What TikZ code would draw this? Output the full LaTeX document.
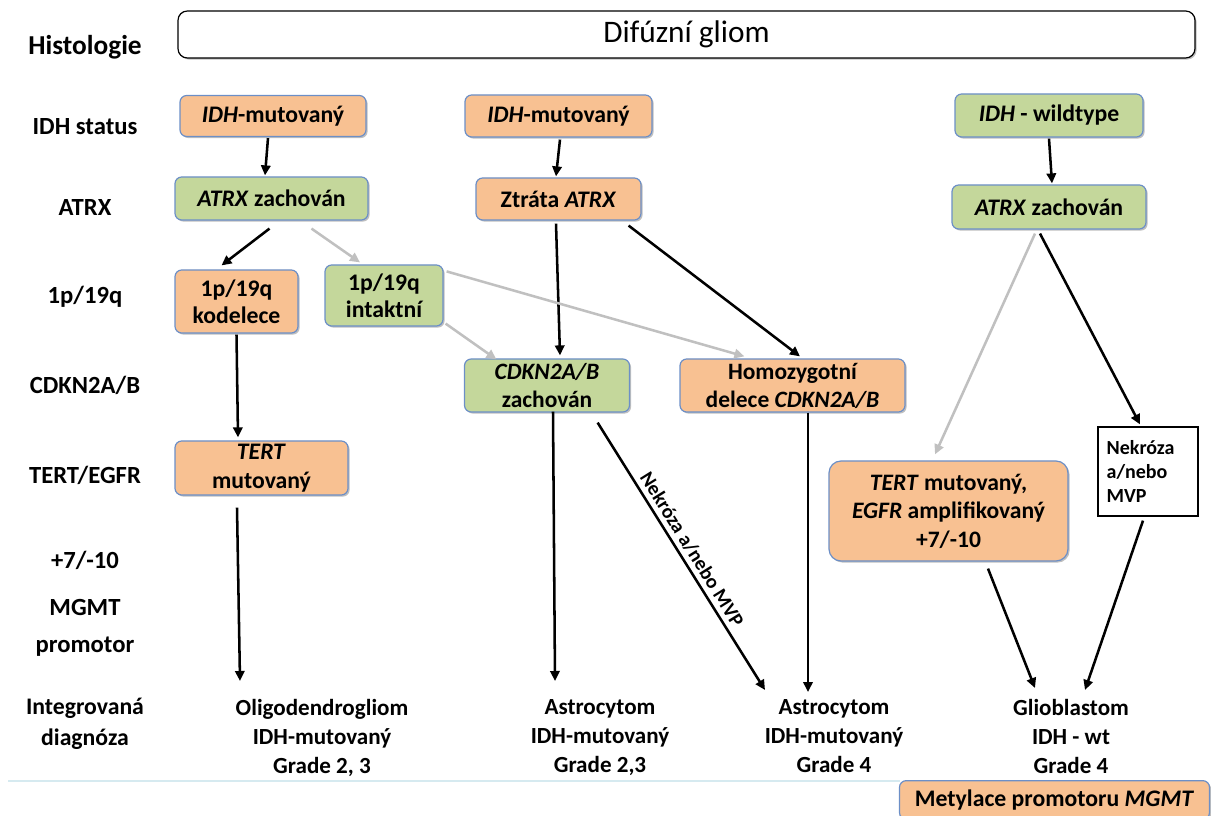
\documentclass[tikz,border=0pt]{standalone}
\usepackage{fontspec}
\setmainfont{Carlito}
\usetikzlibrary{arrows.meta,calc,shadows}
\definecolor{ocol}{RGB}{248,193,146}
\definecolor{gcol}{RGB}{196,215,155}
\definecolor{bcol}{RGB}{108,143,199}
\definecolor{grayarr}{RGB}{192,192,192}
\definecolor{lineblue}{RGB}{214,234,240}
\tikzset{
  shad/.style={drop shadow={shadow xshift=1.2pt,shadow yshift=-1.2pt,opacity=0.25,fill=black}},
  box/.style={draw=bcol,line width=0.9pt,rounded corners=5pt,align=center,inner sep=0pt,shad},
  obox/.style={box,fill=ocol},
  gbox/.style={box,fill=gcol},
  fa/.style={font=\bfseries\fontsize{17.8}{20}\selectfont},
  fb/.style={font=\bfseries\fontsize{17.8}{20}\selectfont},
  rowlab/.style={font=\bfseries\fontsize{18.5}{22}\selectfont,align=center},
  diag/.style={font=\bfseries\fontsize{17.3}{21.75}\selectfont,align=center,anchor=north,inner sep=0pt},
  arr/.style={line width=1.9pt,-{Triangle[length=7.5pt,width=7pt]}},
  garr/.style={arr,draw=grayarr},
}
\begin{document}
\begin{tikzpicture}[x=0.75pt,y=-0.75pt]
\useasboundingbox (0,0) rectangle (1211,816);
\clip (0,0) rectangle (1211,816);

% row labels
\node[font=\bfseries\fontsize{20.5}{24}\selectfont] (lHist) at (85,47) {Histologie};
\node[rowlab] (lIDH) at (85,127) {IDH status};
\node[rowlab] (lATRX) at (85,208) {ATRX};
\node[rowlab] (l1p) at (85,297) {1p/19q};
\node[rowlab] (lCDK) at (85,385) {CDKN2A/B};
\node[rowlab] (lTERT) at (85,475) {TERT/EGFR};
\node[rowlab] (l710) at (85,560) {+7/-10};
\node[rowlab,font=\bfseries\fontsize{18.5}{27.5}\selectfont] (lMGMT) at (85,628) {MGMT\\promotor};
\node[font=\bfseries\fontsize{17.8}{23}\selectfont,align=center] (lInt) at (85,724) {Integrovaná\\diagnóza};

% top box
\node[draw=black,line width=0.9pt,rounded corners=7pt,fill=white,shad,
      minimum width=762.75pt,minimum height=35.25pt,inner sep=0pt,
      font=\fontsize{23.5}{26}\selectfont] (top) at (686.5,34.5) {Difúzní gliom};

% column A
\node[obox,fa,minimum width=139.5pt,minimum height=30.75pt] (A1) at (273,116) {\textit{IDH}-mutovaný};
\node[gbox,fa,minimum width=144.75pt,minimum height=32.25pt] (A2) at (271.5,198.5) {\textit{ATRX} zachován};
\node[obox,fb,minimum width=92.25pt,minimum height=47.25pt] (A3) at (236.5,301.5) {1p/19q\\kodelece};
\node[gbox,fb,minimum width=88.5pt,minimum height=45.75pt] (A4) at (384,295.5) {1p/19q\\intaktní};
\node[obox,font=\bfseries\fontsize{17.8}{21.75}\selectfont,minimum width=129.75pt,minimum height=40.5pt] (A5) at (261.5,468) {\textit{TERT}\\mutovaný};

% column B
\node[obox,fa,minimum width=140.25pt,minimum height=31.5pt] (B1) at (558.5,116) {\textit{IDH}-mutovaný};
\node[obox,fa,minimum width=123.75pt,minimum height=31.5pt] (B2) at (558.5,199) {Ztráta \textit{ATRX}};
\node[gbox,font=\bfseries\fontsize{17.6}{21}\selectfont,minimum width=123.75pt,minimum height=39.75pt] (B3) at (547,385.5) {\textit{CDKN2A/B}\\zachován};
\node[obox,font=\bfseries\fontsize{17.6}{21}\selectfont,minimum width=168.75pt,minimum height=39.75pt] (B4) at (792.5,385.5) {Homozygotní\\delece \textit{CDKN2A/B}};

% column C
\node[gbox,fa,minimum width=141pt,minimum height=32.25pt] (C1) at (1049,115.5) {\textit{IDH} - wildtype};
\node[gbox,fa,minimum width=145.5pt,minimum height=33pt] (C2) at (1049,207) {\textit{ATRX} zachován};
\node[obox,rounded corners=9pt,font=\bfseries\fontsize{17.7}{21.4}\selectfont,minimum width=179.25pt,minimum height=75pt] (C3) at (948.5,511) {\textit{TERT} mutovaný,\\\textit{EGFR} amplifikovaný\\+7/-10};
\node[draw=black,line width=0.9pt,fill=white,align=left,inner sep=0pt,text width=62pt,
      font=\bfseries\fontsize{15}{18}\selectfont,minimum width=75pt,minimum height=66.75pt] (C4) at (1148,471.5) {Nekróza\\a/nebo\\MVP};

% diagnoses
\node[diag] (D1) at (322,699) {Oligodendrogliom\\IDH-mutovaný\\Grade 2, 3};
\node[diag] (D2) at (600,699) {Astrocytom\\IDH-mutovaný\\Grade 2,3};
\node[diag] (D3) at (834,699) {Astrocytom\\IDH-mutovaný\\Grade 4};
\node[diag] (D4) at (1071,699) {Glioblastom\\IDH - wt\\Grade 4};

% separator line and MGMT box
\draw[lineblue,line width=1.6pt] (8,781) -- (900,781);
\node[obox,fb,minimum width=232.5pt,minimum height=29pt] (M) at (1054.5,800) {Metylace promotoru \textit{MGMT}};

% arrows column A
\draw[arr] ($(A1.south)+(-5,1)$) -- ($(A2.north)+(-6.5,-1)$);
\draw[arr] ($(A2.south)+(-2,8)$) -- ($(A3.north)+(-15,-4)$);
\draw[garr] ($(A2.south)+(40,8)$) -- ($(A4.north)+(-24,-2)$);
\draw[arr] ($(A3.south)+(0,1)$) -- ($(A5.north)+(-23.5,-3)$);
\draw[arr] ($(A5.south)+(-24.5,12)$) -- ($(D1.north)+(-82,-18)$);

% arrows column B
\draw[arr] ($(B1.south)+(1.5,2)$) -- ($(B2.north)+(-2.5,-1)$);
\draw[arr] ($(B2.south)+(-2.5,3)$) -- ($(B3.north)+(13,-3)$);
\draw[arr] ($(B2.south east)+(-13,5)$) -- ($(B4.north)+(7.5,-2)$);
\draw[garr] ($(A4.south east)+(2,-3)$) -- ($(B3.north west)+(32.5,1)$);
\draw[garr] ($(A4.north east)+(3,7)$) -- ($(B4.north west)+(65,-2)$);
\draw[arr] ($(B3.south)+(6,-1)$) -- ($(D2.north)+(-45,-18)$);
\draw[arr] ($(B3.south east)+(-32.5,10)$) -- node[sloped,above=2pt,pos=0.5,inner sep=1pt,font=\bfseries\fontsize{15}{17}\selectfont] (nk) {Nekróza a/nebo MVP} ($(D3.north)+(-69,-9)$);
\draw[arr] ($(B4.south)+(15.5,0)$) -- ($(D3.north)+(-26,-7)$);

% arrows column C
\draw[arr] ($(C1.south)+(0,1)$) -- ($(C2.north)+(3,-1)$);
\draw[garr] ($(C2.south)+(-14,4)$) -- ($(C3.north)+(-13.5,-6)$);
\draw[arr] ($(C2.south)+(-9,4)$) -- ($(C4.north)+(-8,-2)$);
\draw[arr] ($(C3.south)+(39.5,7)$) -- ($(D4.north)+(-36,-11)$);
\draw[arr] ($(C4.south)+(-5,4)$) -- ($(D4.north)+(14,-9)$);
\end{tikzpicture}
\end{document}
